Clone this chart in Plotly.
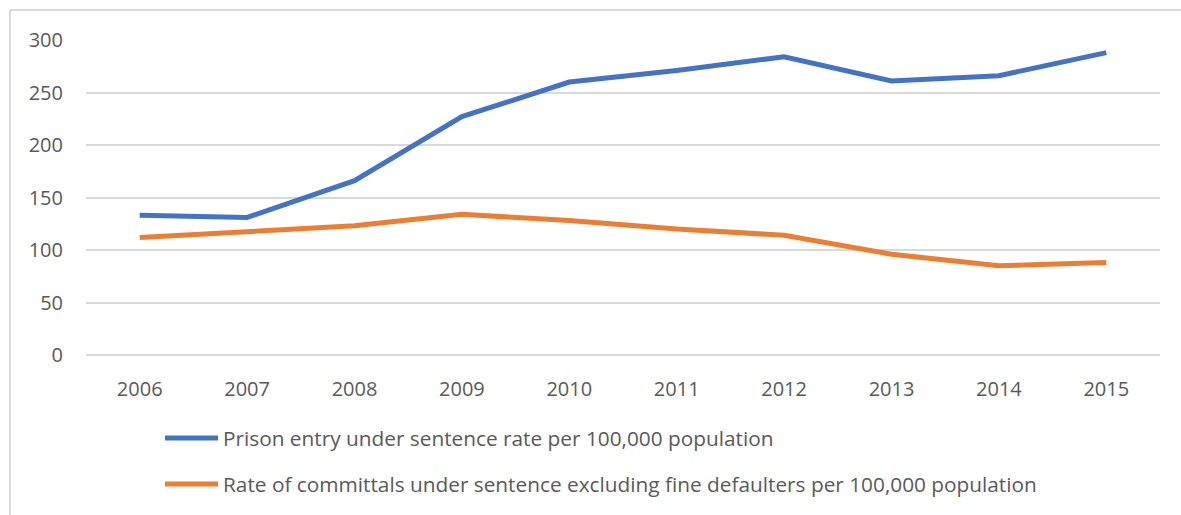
import plotly.graph_objects as go

years = ["2006", "2007", "2008", "2009", "2010", "2011", "2012", "2013", "2014", "2015"]
prison_entry = [133, 131, 166, 227, 260, 271, 284, 261, 266, 288]
committals = [112, 118, 123, 134, 128, 120, 114, 96, 85, 88]
series_names = [
    "Prison entry under sentence rate per 100,000 population",
    "Rate of committals under sentence excluding fine defaulters per 100,000 population",
]
colors = ["#4472C4", "#ED7D31"]
y_ticks = [0, 50, 100, 150, 200, 250, 300]

W, H = 1181, 515
L, R, T, B = 86, 21, 40, 160
pw, ph = W - L - R, H - T - B


def px_x(px):
    return (px - L) / pw


def px_y(py):
    return (H - B - py) / ph


fig = go.Figure()
for name, vals, col in zip(series_names, [prison_entry, committals], colors):
    fig.add_trace(go.Scatter(x=years, y=vals, mode="lines", name=name,
                             line=dict(color=col, width=5), showlegend=False))

shapes = [
    dict(type="line", xref="paper", yref="paper", x0=px_x(10), x1=px_x(1200),
         y0=px_y(10), y1=px_y(10), line=dict(color="#D9D9D9", width=2)),
    dict(type="line", xref="paper", yref="paper", x0=px_x(10), x1=px_x(10),
         y0=px_y(10), y1=px_y(530), line=dict(color="#D9D9D9", width=2)),
]
annotations = []
for i, (name, col) in enumerate(zip(series_names, colors)):
    cy = 438 + i * 46
    shapes.append(dict(type="line", xref="paper", yref="paper", x0=px_x(165), x1=px_x(218),
                       y0=px_y(cy), y1=px_y(cy), line=dict(color=col, width=5)))
    annotations.append(dict(xref="paper", yref="paper", x=px_x(221), y=px_y(cy),
                            xanchor="left", yanchor="middle", text=name, showarrow=False,
                            font=dict(size=20.8, color="#595959")))

fig.update_layout(
    width=W, height=H,
    margin=dict(l=L, r=R, t=T, b=B),
    paper_bgcolor="white", plot_bgcolor="white",
    font=dict(family="Open Sans", color="#595959"),
    shapes=shapes, annotations=annotations,
    xaxis=dict(type="category", range=[-0.5, 9.5], showgrid=False, zeroline=False,
               showline=False, ticks="", tickfont=dict(size=20, color="#595959"),
               ticklabelstandoff=20),
    yaxis=dict(range=[0, 300], tickvals=y_ticks, showgrid=True, gridcolor="#D9D9D9",
               gridwidth=2, zeroline=True, zerolinecolor="#D9D9D9", zerolinewidth=2,
               showline=False, ticks="", tickfont=dict(size=20, color="#595959"),
               ticklabelstandoff=22),
)
fig.write_html("out.html")
